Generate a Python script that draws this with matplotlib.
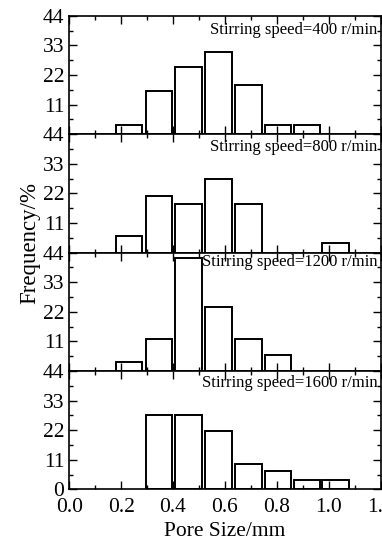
import numpy as np
import matplotlib
matplotlib.use('Agg')
import matplotlib.pyplot as plt
from matplotlib.ticker import MultipleLocator, FixedLocator

plt.rcParams['font.family'] = ['Liberation Serif', 'DejaVu Serif']

# bin centres (mm) shared by all panels
bin_centers = [0.23, 0.345, 0.46, 0.575, 0.69, 0.805, 0.915, 1.025]
bar_width = 0.102

speeds = ['400', '800', '1200', '1600']
freq_400 = [3.5, 15.9, 24.9, 30.6, 18.3, 3.5, 3.5, 0]
freq_800 = [6.1, 21.2, 17.9, 27.2, 17.9, 0, 0, 3.5]
freq_1200 = [3.4, 11.9, 42.1, 23.6, 11.9, 5.9, 0, 0]
freq_1600 = [0, 27.7, 27.7, 21.7, 9.4, 6.8, 3.4, 3.4]
freqs = [freq_400, freq_800, freq_1200, freq_1600]

yticks = [0, 11, 22, 33, 44]
xticks = [0.0, 0.2, 0.4, 0.6, 0.8, 1.0, 1.2]
label_y = [0.842, 0.858, 0.883, 0.862]

fig = plt.figure(figsize=(3.82, 5.44), dpi=100)
left, right = 0.181, 0.997
top, bottom = 0.971, 0.1005
h = (top - bottom) / 4

for i, (sp, fr) in enumerate(zip(speeds, freqs)):
    ax = fig.add_axes([left, top - (i + 1) * h, right - left, h])
    xs = [c for c, v in zip(bin_centers, fr) if v > 0]
    vs = [v for v in fr if v > 0]
    ax.bar(xs, vs, width=bar_width, facecolor='white', edgecolor='black', linewidth=1.4)
    ax.set_xlim(0, 1.2)
    ax.set_ylim(0, 44)
    ax.xaxis.set_major_locator(FixedLocator(xticks))
    ax.xaxis.set_minor_locator(MultipleLocator(0.1))
    ax.yaxis.set_major_locator(FixedLocator(yticks))
    ax.yaxis.set_minor_locator(MultipleLocator(5.5))
    ax.tick_params(which='both', direction='in', top=True, right=True, width=1.0)
    ax.tick_params(which='major', length=5.5, labelsize=15.5)
    ax.tick_params(axis='y', which='major', pad=3.5)
    ax.tick_params(axis='x', which='major', pad=6)
    ax.tick_params(which='minor', length=3)
    for s in ax.spines.values():
        s.set_linewidth(1.2)
    if i < 3:
        ax.set_xticklabels([])
        ax.set_yticklabels(['', '11', '22', '33', '44'])
    else:
        ax.set_xticklabels(['0.0', '0.2', '0.4', '0.6', '0.8', '1.0', '1.2'])
        ax.set_yticklabels(['0', '11', '22', '33', '44'])
        ax.set_xlabel('Pore Size/mm', fontsize=15.5, labelpad=4)
    ax.text(0.989, label_y[i], 'Stirring speed=%s r/min' % sp, transform=ax.transAxes,
            ha='right', va='baseline', fontsize=12)

fig.text(0.079, 1 - 243 / 544, 'Frequency/%', rotation=90, ha='center', va='center', fontsize=16.5)

fig.savefig('out.png', dpi=100)
